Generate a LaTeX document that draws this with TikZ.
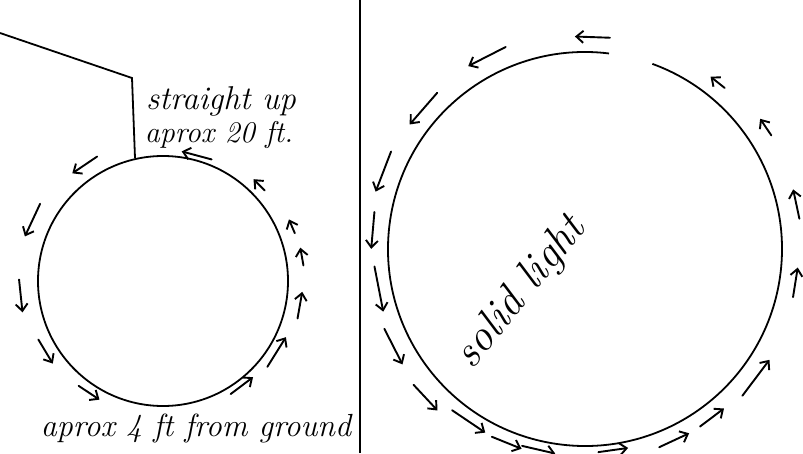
\documentclass[tikz,border=0pt]{standalone}
\usepackage{tikz}
\usetikzlibrary{arrows.meta,calc}
\newcommand{\hand}{\itshape}

\begin{document}
\begin{tikzpicture}[x=1pt,y=1pt,
    flow/.style={line width=1.9pt,line cap=round,-{Straight Barb[length=7pt,width=12pt]}},
    note/.style={font={\fontsize{33}{36}\selectfont\hand},inner sep=0pt}]
  \clip (0,0) rectangle (803,453);
  \fill[white] (0,0) rectangle (803,453);
  % divider between the two sketches
  \draw[line width=2.2pt] (360,0) -- (360,453);
  % left sketch
  \coordinate (lc) at (163,172);
  \coordinate (start) at (0,420);
  \coordinate (bend) at (132,375);
  \coordinate (top) at (135,295);
  \draw[line width=1.8pt] (start) -- (bend) -- (top);
  \draw[line width=1.8pt] (lc) circle[radius=125pt];
  \foreach \a/\d/\l in {124/140/30,155/144/36,186/143/33,211/137/28,236.5/134/25,
      307/131/28,328/134/35,350/139/27,10/141/18,23/140/15,45/136/16,75/130/31}
    \draw[flow,shift={(lc)},rotate=\a] (\d,-\l/2) -- (\d,\l/2);
  \node[note] (up) at (221,352) {straight up};
  \node[note,font={\fontsize{30}{34}\selectfont\hand}] (ft20) at (219,318) {aprox 20 ft.};
  \node[note,font={\fontsize{32}{36}\selectfont\hand}] (ground) at (196,25) {aprox 4 ft from ground};
  % right sketch
  \coordinate (rc) at (585,204);
  \draw[line width=1.8pt] ($(rc)+(83:197)$) arc[start angle=83,end angle=430,radius=197pt];
  \foreach \a/\d/\l in {88/212/35,117/216/42,139/214/42,159/216/43,175/213/37,
      191/210/46,207/215/40,223/218/35,236/208/40,248/209/32,257/206/34,
      278/203/30,295/211/33,307/211/30,323/214/45,351/213/30,12/216/30,
      34/218/20,51.5/213/18}
    \draw[flow,shift={(rc)},rotate=\a] (\d,-\l/2) -- (\d,\l/2);
  \node[note,rotate=51,font={\fontsize{44}{48}\selectfont\hand}] (solid) at (521,160) {solid light};
\end{tikzpicture}
\end{document}
